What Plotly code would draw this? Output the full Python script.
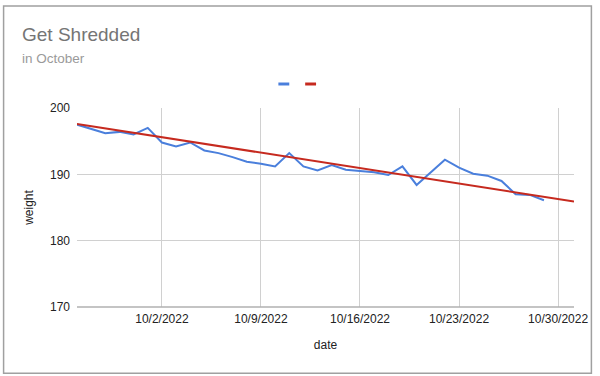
import pandas as pd
import plotly.graph_objects as go

start_date = "2022-09-26"
end_date = "2022-10-29"
weights = [197.5, 196.8, 196.2, 196.4, 196.0, 197.0, 194.8, 194.2, 194.8, 193.6,
           193.2, 192.6, 191.9, 191.6, 191.2, 193.2, 191.2, 190.6, 191.4, 190.7,
           190.5, 190.3, 189.9, 191.2, 188.4, 190.3, 192.2, 191.0, 190.1, 189.8,
           189.0, 187.0, 186.9, 186.1]
x_range = ["2022-09-26 00:00", "2022-10-31 03:00"]
trend_weights = [197.6, 185.9]   # trendline values at the two ends of the x range
tick_dates = ["2022-10-02", "2022-10-09", "2022-10-16", "2022-10-23", "2022-10-30"]
tick_labels = ["10/2/2022", "10/9/2022", "10/16/2022", "10/23/2022", "10/30/2022"]
y_ticks = [170, 180, 190, 200]

dates = pd.date_range(start_date, end_date, freq="D")

BLUE = "#4a7fdc"
RED = "#c62a1f"
FONT = "Liberation Sans, Arial, sans-serif"

fig = go.Figure()
fig.add_trace(go.Scatter(x=dates, y=weights, mode="lines",
                         line=dict(color=BLUE, width=2), showlegend=False))
fig.add_trace(go.Scatter(x=x_range, y=trend_weights, mode="lines",
                         line=dict(color=RED, width=2), showlegend=False))

fig.update_layout(
    width=600, height=376,
    margin=dict(l=77, r=22, t=108, b=69),
    paper_bgcolor="white", plot_bgcolor="white",
    font=dict(family=FONT, size=12, color="#444"),
    showlegend=False,
    title=dict(text="Get Shredded", x=22 / 600, xref="container", xanchor="left",
               y=1 - 34 / 376, yref="container", yanchor="middle",
               font=dict(size=19, color="#757575", family=FONT)),
    annotations=[
        dict(text="in October", xref="paper", yref="paper",
             x=(20 - 77) / 501, y=(307 - 59) / 199, xanchor="left", yanchor="middle",
             showarrow=False, font=dict(size=13.5, color="#9a9a9a", family=FONT)),
    ],
    xaxis=dict(range=x_range, tickvals=tick_dates, ticktext=tick_labels,
               showgrid=True, gridcolor="#d0d0d0", gridwidth=1, zeroline=False,
               showline=False, ticks="", ticklabelstandoff=3,
               title=dict(text="date", font=dict(size=12, color="#222"), standoff=15),
               tickfont=dict(size=12, color="#222")),
    yaxis=dict(range=[170, 200], tickvals=y_ticks, showgrid=True,
               gridcolor="#d0d0d0", gridwidth=1, zeroline=False, showline=False,
               ticks="", ticklabelstandoff=6,
               title=dict(text="weight", font=dict(size=12, color="#222"),
                          standoff=13),
               tickfont=dict(size=12, color="#222")),
    shapes=[
        # chart frame
        dict(type="rect", xref="paper", yref="paper", x0=-0.1477, x1=1.035,
             y0=-0.333, y1=1.5126, line=dict(color="#a0a0a0", width=1.5),
             fillcolor="rgba(0,0,0,0)", layer="below"),
        # baseline
        dict(type="line", xref="paper", yref="paper", x0=0, x1=1, y0=0, y1=0,
             line=dict(color="#b0b0b0", width=1.5)),
        # legend swatches
        dict(type="rect", xref="paper", yref="paper", x0=0.4052, x1=0.4271,
             y0=1.1131, y1=1.1281, line=dict(width=0), fillcolor=BLUE),
        dict(type="rect", xref="paper", yref="paper", x0=0.4591, x1=0.4810,
             y0=1.1131, y1=1.1281, line=dict(width=0), fillcolor=RED),
    ],
)

fig.write_html("out.html", config={"displayModeBar": False},
               post_script="document.body.style.margin='0';")
